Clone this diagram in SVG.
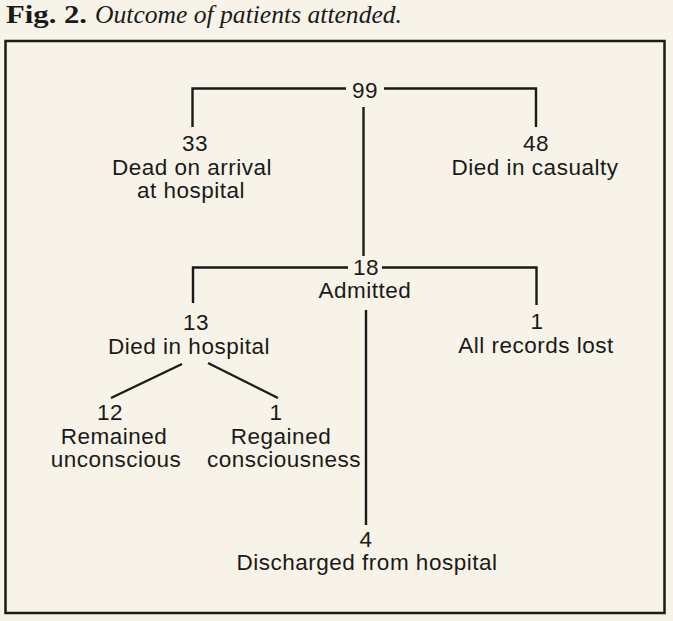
<svg xmlns="http://www.w3.org/2000/svg" width="673" height="621" viewBox="0 0 673 621">
<style>
.bg{fill:#f7f3e8}
.frame{fill:none;stroke:#1a1a1a;stroke-width:2.5}
.ln{fill:none;stroke:#1a1a1a;stroke-width:2.4;stroke-linecap:butt}
.t{font-family:"Liberation Sans",Arial,sans-serif;font-size:22.5px;letter-spacing:0.5px;fill:#1a1a1a;text-anchor:middle}
.tb{font-family:"Liberation Serif","Times New Roman",serif;font-size:26px;font-weight:bold;fill:#1a1a1a}
.ti{font-family:"Liberation Serif","Times New Roman",serif;font-size:25px;font-style:italic;fill:#1a1a1a}
</style>
<rect class="bg" x="0" y="0" width="673" height="621"/>
<text class="tb" x="6" y="23" textLength="81" lengthAdjust="spacingAndGlyphs">Fig. 2.</text>
<text class="ti" x="95" y="23" textLength="307" lengthAdjust="spacingAndGlyphs">Outcome of patients attended.</text>
<rect class="frame" x="5.5" y="41" width="659" height="572"/>
<g id="connectors">
<path class="ln" d="M346,88.5 H192.5 V127"/>
<path class="ln" d="M384,88.5 H536 V127"/>
<path class="ln" d="M363.5,107 V256"/>
<path class="ln" d="M348,267.5 H193 V303"/>
<path class="ln" d="M382,267.5 H536.5 V305"/>
<path class="ln" d="M366,310 V525"/>
<path class="ln" d="M182,364 L111,398"/>
<path class="ln" d="M208,363 L278,398"/>
</g>
<g id="n99"><text class="t" x="365" y="98">99</text></g>
<g id="n33"><text class="t" x="195" y="151">33</text><text class="t" x="192" y="175">Dead on arrival</text><text class="t" x="191" y="198">at hospital</text></g>
<g id="n48"><text class="t" x="536" y="151">48</text><text class="t" x="535" y="175">Died in casualty</text></g>
<g id="n18"><text class="t" x="366" y="275">18</text><text class="t" x="365" y="298">Admitted</text></g>
<g id="n13"><text class="t" x="196" y="330">13</text><text class="t" x="189" y="354">Died in hospital</text></g>
<g id="n1lost"><text class="t" x="537" y="329">1</text><text class="t" x="536" y="353">All records lost</text></g>
<g id="n12"><text class="t" x="110" y="420">12</text><text class="t" x="114" y="444">Remained</text><text class="t" x="116" y="467">unconscious</text></g>
<g id="n1regained"><text class="t" x="276" y="420">1</text><text class="t" x="281" y="444">Regained</text><text class="t" x="284" y="467">consciousness</text></g>
<g id="n4"><text class="t" x="366" y="547">4</text><text class="t" x="367" y="570">Discharged from hospital</text></g>
</svg>
